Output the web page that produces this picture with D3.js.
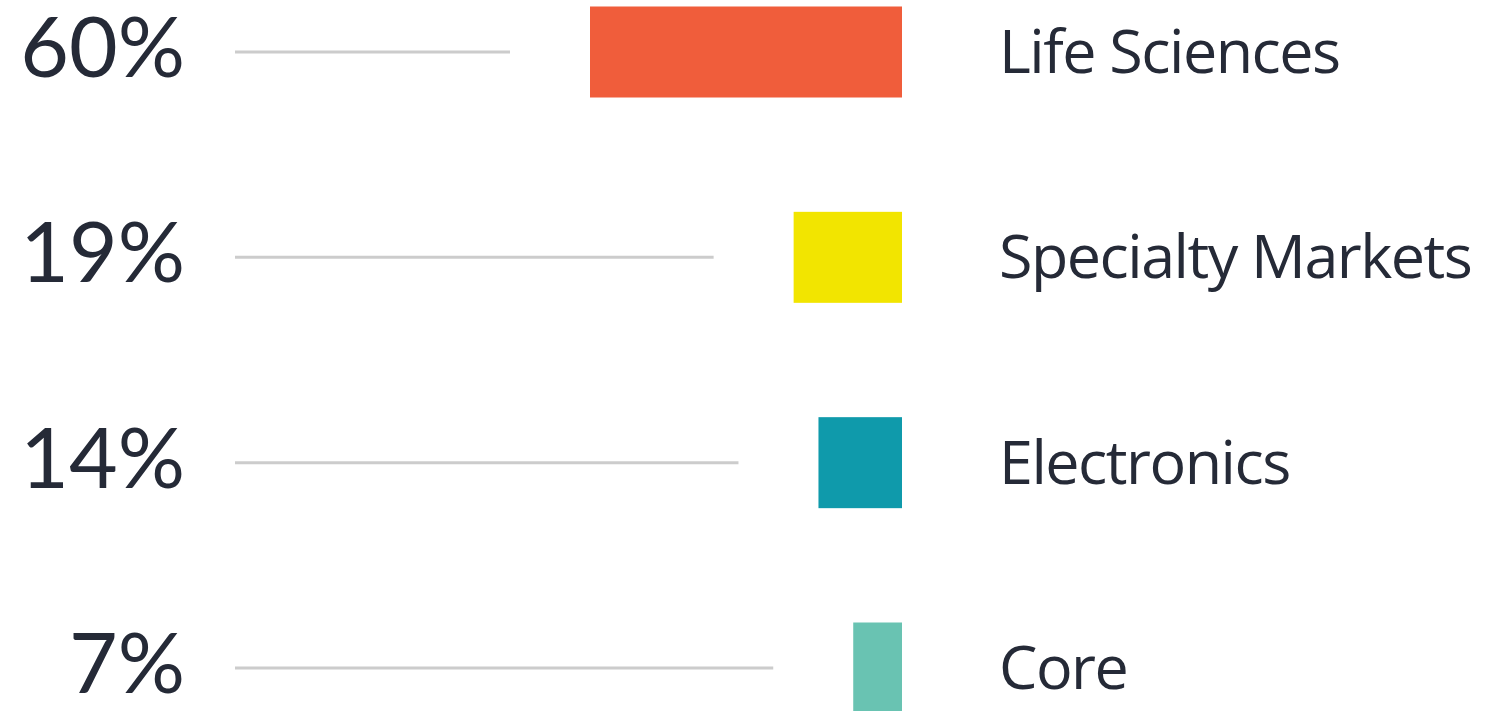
<!DOCTYPE html>
<html>
<head>
<meta charset="utf-8">
<script src="https://cdn.jsdelivr.net/npm/d3@7"></script>
<style>
	body { margin: 0; background: #fff; }
	svg { display: block; }
</style>
</head>
<body>
<svg id="chart" width="1512" height="711"></svg>
<script>
// segments, share of sales (%)
const categories = ["Life Sciences", "Specialty Markets", "Electronics", "Core"]
const values = [60, 19, 14, 7]
const labels = ["60%", "19%", "14%", "7%"]
const colours = ["#f05d3b", "#f2e500", "#0f9aab", "#69c3b2"]

const rows = categories.map((c, i) => ({ category: c, value: values[i], label: labels[i], colour: colours[i] }))

const svg = d3.select("#chart")

const barRight = 902
const barHeight = 91
const lineStart = 235
const gap = 80

// row positions
const y = d3.scalePoint().domain(categories).range([52, 668])

// bar widths
const w = d3.scaleLinear().domain([0, 60]).range([14, 312])

const row = svg
	.selectAll(".row")
	.data(rows)
	.enter()
	.append("g")
	.attr("class", "row")
	.attr("transform", d => `translate(0,${y(d.category)})`)

/**
 * Percentage on the left, right-aligned
 */
row
	.append("text")
	.attr("x", 185)
	.attr("y", 25)
	.attr("text-anchor", "end")
	.attr("font-family", "Lato, sans-serif")
	.attr("font-size", 84)
	.attr("fill", "#252a37")
	.text(d => d.label)

/**
 * Grey leader line that stops a fixed gap before the bar
 */
row
	.append("line")
	.attr("x1", lineStart)
	.attr("x2", d => barRight - w(d.value) - gap)
	.attr("y1", 0)
	.attr("y2", 0)
	.attr("stroke", "#cccccc")
	.attr("stroke-width", 3)

/**
 * The bar, right-aligned
 */
row
	.append("rect")
	.attr("x", d => barRight - w(d.value))
	.attr("y", -barHeight / 2)
	.attr("width", d => w(d.value))
	.attr("height", barHeight)
	.attr("fill", d => d.colour)

/**
 * Category name
 */
row
	.append("text")
	.attr("x", 999)
	.attr("y", 21)
	.attr("font-family", "'Open Sans', sans-serif")
	.attr("font-size", 61)
	.attr("letter-spacing", -1.5)
	.attr("fill", "#252a37")
	.text(d => d.category)
</script>
</body>
</html>
